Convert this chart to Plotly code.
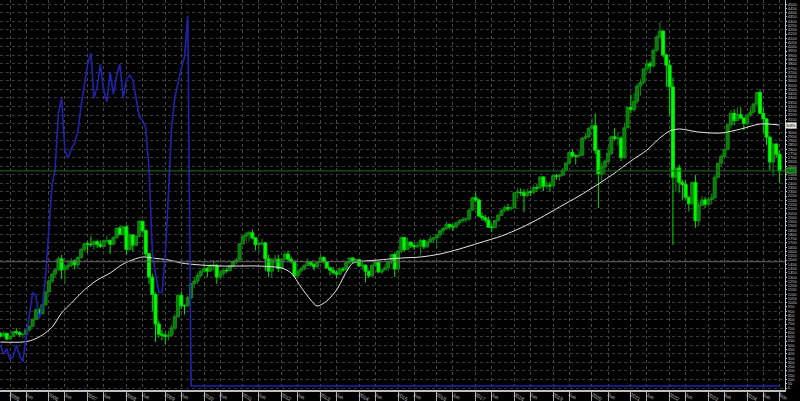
import plotly.graph_objects as go
import pandas as pd

# Monthly bars, Oct 2004 .. Nov 2024 (MOEX-style index)
months = pd.date_range("2004-10-01", periods=242, freq="MS")

opens = [
    640, 610, 640,
    575, 605, 660, 650, 625, 630, 680, 720, 805, 915, 870, 975,
    1125, 1255, 1335, 1385, 1515, 1385, 1420, 1440, 1490, 1445, 1530, 1625,
    1690, 1685, 1680, 1715, 1685, 1660, 1725, 1730, 1685, 1765, 1875, 1800,
    1890, 1625, 1795, 1675, 1775, 1955, 1845, 1575, 1300, 1095, 750, 630,
    620, 605, 620, 705, 835, 1085, 965, 965, 1060, 1225, 1255, 1320,
    1370, 1400, 1370, 1440, 1440, 1300, 1340, 1380, 1375, 1430, 1480, 1500,
    1690, 1780, 1805, 1820, 1760, 1680, 1695, 1700, 1515, 1370, 1505, 1510,
    1400, 1510, 1570, 1510, 1480, 1315, 1370, 1395, 1435, 1475, 1450, 1420,
    1475, 1530, 1480, 1410, 1380, 1355, 1335, 1395, 1385, 1470, 1525, 1490,
    1505, 1430, 1440, 1370, 1315, 1440, 1475, 1360, 1385, 1410, 1485, 1565,
    1395, 1605, 1765, 1625, 1710, 1670, 1655, 1670, 1730, 1655, 1710, 1745,
    1760, 1795, 1845, 1870, 1920, 1890, 1890, 1935, 1960, 1980, 1980, 2085,
    2230, 2205, 2015, 1995, 1970, 1885, 1880, 1965, 2025, 2080, 2115, 2100,
    2110, 2290, 2295, 2290, 2255, 2300, 2295, 2350, 2345, 2475, 2365, 2380,
    2370, 2490, 2480, 2495, 2555, 2635, 2760, 2720, 2720, 2730, 2930, 2945,
    3045, 3075, 2785, 2510, 2590, 2655, 2750, 2945, 2925, 2930, 2700, 3050,
    3290, 3265, 3360, 3540, 3580, 3740, 3800, 3775, 3960, 4115, 4185, 3905,
    3785, 3530, 2470, 2580, 2410, 2385, 2235, 2160, 2410, 1960, 2140, 2205,
    2155, 2210, 2230, 2470, 2635, 2715, 2795, 3085, 3220, 3135, 3205, 3165,
    3100, 3200, 3235, 3330, 3465, 3220, 3155, 2940, 2650, 2860, 2740,
]
highs = [
    655, 665, 650,
    620, 670, 700, 665, 640, 690, 735, 815, 935, 940, 985, 1130,
    1270, 1350, 1400, 1540, 1560, 1440, 1480, 1520, 1510, 1545, 1640, 1700,
    1720, 1780, 1730, 1740, 1730, 1740, 1790, 1745, 1780, 1880, 1905, 1900,
    1905, 1810, 1800, 1790, 1970, 1960, 1860, 1580, 1340, 1120, 790, 680,
    650, 670, 740, 870, 1100, 1130, 980, 1080, 1230, 1300, 1350, 1380,
    1480, 1420, 1450, 1500, 1450, 1380, 1400, 1410, 1440, 1500, 1530, 1690,
    1790, 1830, 1840, 1860, 1770, 1700, 1750, 1715, 1560, 1530, 1560, 1560,
    1520, 1590, 1610, 1540, 1490, 1390, 1420, 1450, 1520, 1490, 1460, 1480,
    1560, 1545, 1490, 1420, 1420, 1380, 1420, 1420, 1480, 1530, 1530, 1520,
    1510, 1480, 1450, 1380, 1445, 1500, 1480, 1400, 1460, 1490, 1570, 1590,
    1620, 1780, 1770, 1760, 1720, 1700, 1710, 1750, 1745, 1730, 1790, 1770,
    1800, 1850, 1890, 1950, 1925, 1920, 1950, 1980, 1990, 2000, 2090, 2240,
    2290, 2220, 2060, 2030, 2010, 1920, 1970, 2040, 2100, 2140, 2160, 2130,
    2300, 2350, 2340, 2330, 2340, 2320, 2380, 2390, 2490, 2480, 2430, 2420,
    2500, 2510, 2510, 2580, 2650, 2770, 2800, 2740, 2790, 2940, 2990, 3060,
    3160, 3220, 2800, 2640, 2680, 2830, 2960, 3050, 3000, 2950, 3110, 3300,
    3440, 3460, 3570, 3620, 3750, 3850, 3830, 3970, 4140, 4290, 4190, 3920,
    3850, 3640, 2580, 2620, 2440, 2440, 2250, 2420, 2500, 2180, 2250, 2240,
    2240, 2280, 2500, 2640, 2740, 2810, 3090, 3260, 3270, 3290, 3290, 3170,
    3220, 3290, 3340, 3470, 3500, 3290, 3165, 2960, 2870, 2870, 2780,
]
lows = [
    590, 600, 560,
    560, 600, 625, 600, 585, 625, 660, 715, 800, 840, 865, 970,
    1120, 1230, 1290, 1380, 1280, 1230, 1380, 1420, 1390, 1400, 1515, 1600,
    1580, 1655, 1620, 1640, 1640, 1655, 1700, 1570, 1680, 1750, 1790, 1780,
    1560, 1610, 1600, 1660, 1770, 1820, 1540, 1220, 900, 540, 590, 560,
    510, 560, 600, 680, 830, 930, 860, 950, 1040, 1170, 1220, 1290,
    1360, 1300, 1365, 1380, 1220, 1270, 1310, 1350, 1370, 1410, 1450, 1500,
    1680, 1720, 1720, 1740, 1610, 1600, 1670, 1370, 1300, 1290, 1440, 1360,
    1390, 1500, 1480, 1460, 1290, 1290, 1330, 1380, 1430, 1420, 1380, 1410,
    1470, 1460, 1400, 1320, 1330, 1290, 1330, 1360, 1380, 1450, 1460, 1460,
    1420, 1390, 1240, 1290, 1300, 1430, 1350, 1335, 1380, 1370, 1450, 1300,
    1380, 1580, 1600, 1620, 1640, 1620, 1640, 1560, 1630, 1640, 1700, 1700,
    1640, 1760, 1800, 1850, 1860, 1840, 1870, 1910, 1940, 1940, 1960, 2080,
    2180, 2000, 1960, 1940, 1880, 1825, 1870, 1950, 2020, 2060, 2070, 2080,
    2110, 2220, 2250, 2060, 2240, 2250, 2270, 2300, 2330, 2310, 2330, 2300,
    2365, 2440, 2430, 2480, 2540, 2620, 2700, 2620, 2700, 2720, 2910, 2930,
    3030, 2740, 2110, 2420, 2500, 2640, 2730, 2900, 2840, 2660, 2690, 3050,
    3220, 3240, 3330, 3430, 3560, 3700, 3690, 3760, 3940, 4100, 3880, 3530,
    3200, 1680, 2300, 2290, 2200, 2210, 2070, 2150, 1880, 1900, 2130, 2110,
    2140, 2150, 2220, 2460, 2600, 2690, 2790, 3040, 3080, 3130, 3150, 3020,
    3080, 3180, 3220, 3310, 3210, 2990, 2850, 2550, 2480, 2700, 2400,
]
closes = [
    610, 640, 575,
    605, 660, 650, 625, 630, 680, 720, 805, 915, 870, 975, 1125,
    1255, 1335, 1385, 1515, 1385, 1420, 1440, 1490, 1445, 1530, 1625, 1690,
    1685, 1680, 1715, 1685, 1660, 1725, 1730, 1685, 1765, 1875, 1800, 1890,
    1625, 1795, 1675, 1775, 1955, 1845, 1575, 1300, 1095, 750, 630, 620,
    605, 620, 705, 835, 1085, 965, 965, 1060, 1225, 1255, 1320, 1370,
    1400, 1370, 1440, 1440, 1300, 1340, 1380, 1375, 1430, 1480, 1500, 1690,
    1780, 1805, 1820, 1760, 1680, 1695, 1700, 1515, 1370, 1505, 1510, 1400,
    1510, 1570, 1510, 1480, 1315, 1370, 1395, 1435, 1475, 1450, 1420, 1475,
    1530, 1480, 1410, 1380, 1355, 1335, 1395, 1385, 1470, 1525, 1490, 1505,
    1430, 1440, 1370, 1315, 1440, 1475, 1360, 1385, 1410, 1485, 1565, 1395,
    1605, 1765, 1625, 1710, 1670, 1655, 1670, 1730, 1655, 1710, 1745, 1760,
    1795, 1845, 1870, 1920, 1890, 1890, 1935, 1960, 1980, 1980, 2085, 2230,
    2205, 2015, 1995, 1970, 1885, 1880, 1965, 2025, 2080, 2115, 2100, 2110,
    2290, 2295, 2290, 2255, 2300, 2295, 2350, 2345, 2475, 2365, 2380, 2370,
    2490, 2480, 2495, 2555, 2635, 2760, 2720, 2720, 2730, 2930, 2945, 3045,
    3075, 2785, 2510, 2590, 2655, 2750, 2945, 2925, 2930, 2700, 3050, 3290,
    3265, 3360, 3540, 3580, 3740, 3800, 3775, 3960, 4115, 4185, 3905, 3785,
    3530, 2470, 2580, 2410, 2385, 2235, 2160, 2410, 1960, 2140, 2205, 2155,
    2210, 2230, 2470, 2635, 2715, 2795, 3085, 3220, 3135, 3205, 3165, 3100,
    3200, 3235, 3330, 3465, 3220, 3155, 2940, 2650, 2860, 2740, 2545,
]

# White moving-average line
ma_dates = [
    "2004-10-01", "2005-05-01", "2005-08-01", "2005-11-01", "2006-02-01", "2006-05-01",
    "2006-08-01", "2006-12-01", "2007-04-01", "2007-08-01", "2007-12-01", "2008-06-01",
    "2008-09-01", "2009-02-01", "2009-06-01", "2009-12-01", "2010-06-01", "2010-12-01",
    "2011-06-01", "2012-01-01", "2012-04-01", "2012-07-01", "2012-10-01", "2012-12-01",
    "2013-03-01", "2013-06-01", "2013-09-01", "2013-11-01", "2014-03-01", "2014-07-01",
    "2015-02-01", "2015-08-01", "2016-02-01", "2016-08-01", "2017-02-01", "2017-09-01",
    "2018-03-01", "2018-09-01", "2019-03-01", "2019-09-01", "2020-03-01", "2020-08-01",
    "2021-01-01", "2021-06-01", "2021-10-01", "2022-01-01", "2022-04-01", "2022-10-01",
    "2023-05-01", "2023-11-01", "2024-05-01", "2024-11-01",
]
ma_values = [
    539, 539, 563, 621, 715, 879,
    996, 1149, 1266, 1348, 1454, 1536,
    1524, 1501, 1465, 1442, 1430, 1430,
    1430, 1407, 1348, 1184, 1032, 961,
    1020, 1149, 1360, 1465, 1489, 1501,
    1524, 1536, 1571, 1630, 1700, 1782,
    1876, 1993, 2122, 2251, 2392, 2520,
    2661, 2790, 2931, 3013, 3036, 3001,
    2989, 3036, 3095, 3083,
]

# Blue indicator (own scale), monthly Oct 2004 .. Sep 2009, then flat at zero
ind_values = [
    11, 8.5, 10, 7, 8, 11, 8, 6.5, 13, 19, 25, 24, 18, 21, 29, 42, 54, 58, 73, 77,
    63, 61, 63.5, 65, 68, 75, 81, 86, 89, 77, 80, 86, 79, 76, 84, 78, 83, 86, 77, 82,
    83, 82, 77, 72, 71, 69, 58, 36, 30, 25, 25, 35, 52, 69, 77, 81, 85, 88, 99, 0,
    0,
]
ind_dates = list(months[:60]) + [months[-1]]

level_line = 1480

years = list(range(2005, 2025))
x_tick_dates = []
x_tick_text = []
for yr in years:
    x_tick_dates.append(f"{yr}-01-01")
    x_tick_text.append(str(yr))
    x_tick_dates.append(f"{yr}-06-01")
    x_tick_text.append("Jun")
x_tick_dates.append("2024-11-01")
x_tick_text.append("Nov")

X_RANGE = ["2004-09-28", "2024-12-22"]
Y_RANGE = [-23.4, 4548.7]
GRID = "#3a3a3a"
LABEL = "#c8c8c8"

fig = go.Figure()
fig.add_trace(go.Candlestick(
    x=months, open=opens, high=highs, low=lows, close=closes,
    increasing=dict(line=dict(color="#0f8f0f", width=1), fillcolor="#0b7a0b"),
    decreasing=dict(line=dict(color="#00e000", width=1), fillcolor="#00ff00"),
    whiskerwidth=0, showlegend=False, hoverinfo="skip",
))
fig.add_trace(go.Scatter(
    x=ma_dates, y=ma_values, mode="lines",
    line=dict(color="#e8e8e8", width=1, shape="spline", smoothing=0.8),
    showlegend=False, hoverinfo="skip",
))
fig.add_trace(go.Scatter(
    x=ind_dates, y=ind_values, mode="lines", yaxis="y2",
    line=dict(color="#2222b0", width=1.6),
    showlegend=False, hoverinfo="skip",
))

fig.add_hline(y=level_line, line=dict(color="#6a6a6a", width=1))
fig.add_hline(y=closes[-1], line=dict(color="#1f6f1f", width=1))

# right-edge value boxes (MA and last price)
fig.add_annotation(x=1, xref="paper", xanchor="left", y=ma_values[-1], yref="y",
                   text=str(ma_values[-1]), showarrow=False,
                   font=dict(size=4, color="black"), bgcolor="#e8e8e8", borderpad=0)
fig.add_annotation(x=1, xref="paper", xanchor="left", y=closes[-1], yref="y",
                   text=str(closes[-1]), showarrow=False,
                   font=dict(size=4, color="black"), bgcolor="#1f8f1f", borderpad=0)

fig.update_layout(
    width=800, height=401,
    margin=dict(l=0, r=15, t=0, b=11),
    paper_bgcolor="black", plot_bgcolor="black",
    showlegend=False, boxgap=0, boxgroupgap=0,
    font=dict(family="Liberation Sans", color=LABEL),
    xaxis=dict(
        type="date", range=X_RANGE, automargin=False,
        rangeslider=dict(visible=False),
        tickmode="array", tickvals=x_tick_dates, ticktext=x_tick_text,
        ticks="outside", ticklen=10, tickcolor="#b0b0b0", tickwidth=1,
        showticklabels=False,
        showgrid=True, gridcolor="#484848", griddash="dot", gridwidth=1,
        showline=True, linecolor="#c0c0c0", linewidth=2, zeroline=False,
    ),
    xaxis2=dict(
        type="date", range=X_RANGE, overlaying="x", anchor="y", side="bottom",
        automargin=False, tickmode="array", tickvals=x_tick_dates, ticktext=x_tick_text,
        ticks="", ticklabelposition="outside right",
        tickfont=dict(size=5, color=LABEL), showgrid=False, showline=False, zeroline=False,
    ),
    yaxis=dict(
        side="right", range=Y_RANGE, tick0=0, dtick=50, automargin=False,
        ticks="outside", ticklen=1, tickcolor="#c0c0c0",
        tickfont=dict(size=4, color=LABEL),
        showgrid=False,
        showline=True, linecolor="#c0c0c0", linewidth=1, zeroline=False,
    ),
    yaxis2=dict(overlaying="y", range=[-1.07, 103.2], visible=False, showgrid=False,
                automargin=False),
    yaxis3=dict(overlaying="y", range=Y_RANGE, tick0=0, dtick=100, automargin=False,
                showticklabels=False, ticks="", showgrid=True, gridcolor=GRID,
                griddash="dot", gridwidth=1, showline=False, zeroline=False),
)
# invisible anchor trace so the helper axes render
fig.add_trace(go.Scatter(x=[months[0]], y=[closes[0]], xaxis="x2", yaxis="y3",
                         mode="markers", marker=dict(opacity=0), showlegend=False,
                         hoverinfo="skip"))

fig.write_html(
    "out.html",
    config={"displayModeBar": False},
    post_script="document.body.style.margin='0';document.body.style.overflow='hidden';",
)
